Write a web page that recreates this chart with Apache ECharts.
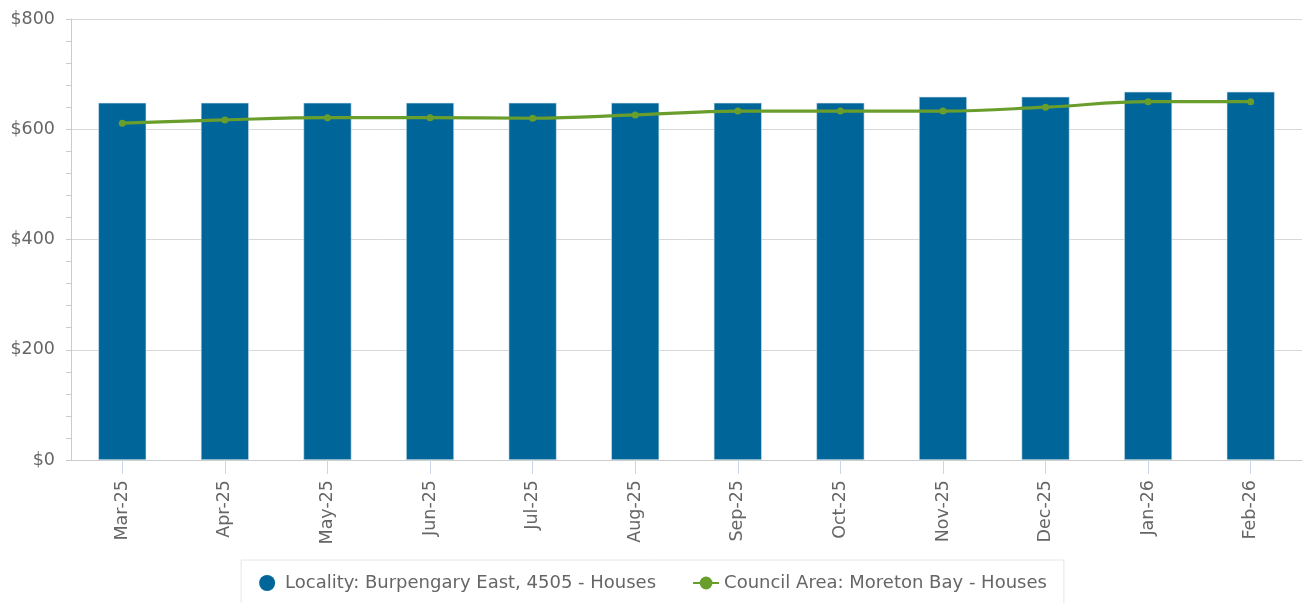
<!DOCTYPE html>
<html>
<head>
<meta charset="utf-8">
<script src="https://cdn.jsdelivr.net/npm/echarts@6/dist/echarts.min.js"></script>
<style>
html,body{margin:0;padding:0;background:#fff;}
#chart{width:1306px;height:603px;}
</style>
</head>
<body>
<div id="chart"></div>
<script>
const categories = ['Mar-25','Apr-25','May-25','Jun-25','Jul-25','Aug-25','Sep-25','Oct-25','Nov-25','Dec-25','Jan-26','Feb-26'];
const localityValues = [648, 648, 648, 648, 648, 648, 648, 648, 659, 659, 668, 668];
const councilValues = [611, 617, 621, 621, 620, 626, 633, 633, 633, 640, 650, 650];
const yTicks = [0, 200, 400, 600, 800];
const localityName = 'Locality: Burpengary East, 4505 - Houses';
const councilName = 'Council Area: Moreton Bay - Houses';

const chart = echarts.init(document.getElementById('chart'));
chart.setOption({
  animation: false,
  textStyle: { fontFamily: 'DejaVu Sans' },
  grid: { left: 71, right: 4, top: 19, bottom: 143, containLabel: false },
  legend: {
    left: 'center',
    top: 560,
    padding: [14, 17, 14, 18],
    borderColor: '#e6e6e6',
    borderWidth: 1,
    itemGap: 36,
    itemWidth: 26,
    itemHeight: 16,
    textStyle: { color: '#666', fontSize: 18, fontFamily: 'DejaVu Sans' },
    data: [
      { name: localityName, icon: 'circle', itemStyle: { borderWidth: 0 } },
      { name: councilName }
    ]
  },
  xAxis: {
    type: 'category',
    data: categories,
    axisLine: { show: true, lineStyle: { color: '#ccc', width: 1 } },
    axisTick: { show: true, alignWithLabel: true, length: 14, lineStyle: { color: '#ccd6eb' } },
    axisLabel: { rotate: 90, margin: 20, color: '#666', fontSize: 17.5, fontFamily: 'DejaVu Sans' },
    splitLine: { show: false }
  },
  yAxis: {
    type: 'value',
    min: yTicks[0],
    max: yTicks[yTicks.length - 1],
    interval: 200,
    axisLine: { show: true, lineStyle: { color: '#ccc', width: 1 } },
    axisTick: { show: true, length: 5, lineStyle: { color: '#ccc' } },
    minorTick: { show: true, splitNumber: 5, length: 5, lineStyle: { color: '#ccc' } },
    axisLabel: {
      margin: 16, color: '#666', fontSize: 17.5, fontFamily: 'DejaVu Sans',
      formatter: v => '$' + v
    },
    splitLine: { show: true, lineStyle: { color: '#d8d8d8', width: 1 } }
  },
  series: [
    {
      name: localityName,
      type: 'bar',
      data: localityValues,
      barWidth: 48,
      itemStyle: { color: '#006699', borderColor: '#d9e6f0', borderWidth: 0.6 }
    },
    {
      name: councilName,
      type: 'line',
      data: councilValues,
      smooth: 0.4,
      symbol: 'circle',
      symbolSize: 7,
      lineStyle: { color: '#6a9e2c', width: 3.2 },
      itemStyle: { color: '#6a9e2c' }
    }
  ]
});
</script>
</body>
</html>
